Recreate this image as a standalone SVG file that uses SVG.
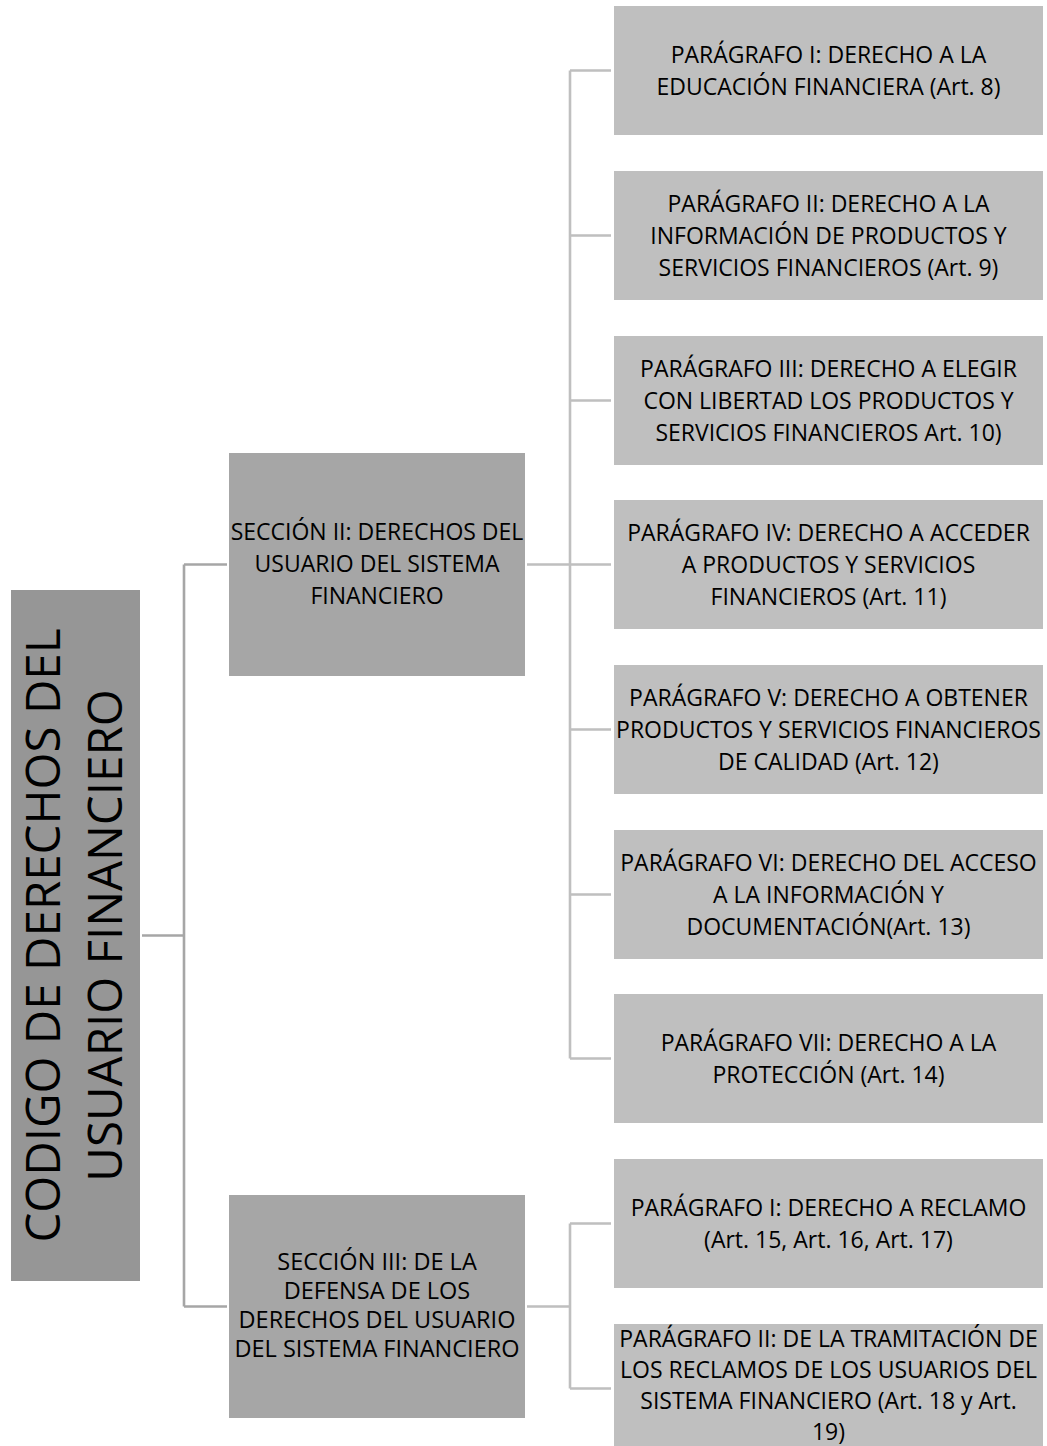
<svg xmlns="http://www.w3.org/2000/svg" width="1047" height="1446" viewBox="0 0 1047 1446">
  <style>
    text { font-family: "Open Sans", "Liberation Sans", sans-serif; fill: #000; text-anchor: middle; }
    .root { fill: #969696; }
    .sec { fill: #a6a6a6; }
    .par { fill: #bfbfbf; }
    .t-root { font-size: 47.5px; }
    .t-sec { font-size: 23px; }
    .t-sec3 { font-size: 23.5px; }
    .t-par { font-size: 23px; }
    .link-main { stroke: #a6a6a6; stroke-width: 2.6; fill: none; }
    .link { stroke: #bfbfbf; stroke-width: 2.6; fill: none; }
  </style>

  <!-- connectors -->
  <g id="connectors">
    <!-- root to sections -->
    <path class="link-main" d="M142 935.5 H184 M184 564.5 V1306.5 M184 564.5 H227 M184 1306.5 H227"/>
    <!-- section II to its paragraphs -->
    <path class="link" d="M527 564.5 H570 M570 70.5 V1058.5
      M570 70.5 H611 M570 235.5 H611 M570 400.5 H611 M570 564.5 H611
      M570 729.5 H611 M570 894.5 H611 M570 1058.5 H611"/>
    <!-- section III to its paragraphs -->
    <path class="link" d="M527 1306.5 H570 M570 1223.5 V1388.5 M570 1223.5 H611 M570 1388.5 H611"/>
  </g>

  <!-- root -->
  <g id="root">
    <rect class="root" x="11" y="590" width="129" height="691"/>
    <g transform="translate(75.5,935.5) rotate(-90)">
      <text class="t-root" x="0" y="-15.5">CODIGO DE DERECHOS DEL</text>
      <text class="t-root" x="0" y="46.5">USUARIO FINANCIERO</text>
    </g>
  </g>

  <!-- sections -->
  <g id="sec2">
    <rect class="sec" x="229" y="453" width="296" height="223"/>
    <text class="t-sec" x="377" y="540">SECCIÓN II: DERECHOS DEL</text>
    <text class="t-sec" x="377" y="572">USUARIO DEL SISTEMA</text>
    <text class="t-sec" x="377" y="604">FINANCIERO</text>
  </g>
  <g id="sec3">
    <rect class="sec" x="229" y="1195" width="296" height="223"/>
    <text class="t-sec3" x="377" y="1270">SECCIÓN III: DE LA</text>
    <text class="t-sec3" x="377" y="1299">DEFENSA DE LOS</text>
    <text class="t-sec3" x="377" y="1328">DERECHOS DEL USUARIO</text>
    <text class="t-sec3" x="377" y="1357">DEL SISTEMA FINANCIERO</text>
  </g>

  <!-- paragraphs of section II -->
  <g id="p1">
    <rect class="par" x="614" y="6" width="429" height="129"/>
    <text class="t-par" x="828.5" y="62.5">PARÁGRAFO I: DERECHO A LA</text>
    <text class="t-par" x="828.5" y="94.5">EDUCACIÓN FINANCIERA (Art. 8)</text>
  </g>
  <g id="p2">
    <rect class="par" x="614" y="171" width="429" height="129"/>
    <text class="t-par" x="828.5" y="211.5">PARÁGRAFO II: DERECHO A LA</text>
    <text class="t-par" x="828.5" y="243.5">INFORMACIÓN DE PRODUCTOS Y</text>
    <text class="t-par" x="828.5" y="275.5">SERVICIOS FINANCIEROS (Art. 9)</text>
  </g>
  <g id="p3">
    <rect class="par" x="614" y="336" width="429" height="129"/>
    <text class="t-par" x="828.5" y="376.5">PARÁGRAFO III: DERECHO A ELEGIR</text>
    <text class="t-par" x="828.5" y="408.5">CON LIBERTAD LOS PRODUCTOS Y</text>
    <text class="t-par" x="828.5" y="440.5">SERVICIOS FINANCIEROS Art. 10)</text>
  </g>
  <g id="p4">
    <rect class="par" x="614" y="500" width="429" height="129"/>
    <text class="t-par" x="828.5" y="540.5">PARÁGRAFO IV: DERECHO A ACCEDER</text>
    <text class="t-par" x="828.5" y="572.5">A PRODUCTOS Y SERVICIOS</text>
    <text class="t-par" x="828.5" y="604.5">FINANCIEROS (Art. 11)</text>
  </g>
  <g id="p5">
    <rect class="par" x="614" y="665" width="429" height="129"/>
    <text class="t-par" x="828.5" y="705.5">PARÁGRAFO V: DERECHO A OBTENER</text>
    <text class="t-par" x="828.5" y="737.5">PRODUCTOS Y SERVICIOS FINANCIEROS</text>
    <text class="t-par" x="828.5" y="769.5">DE CALIDAD (Art. 12)</text>
  </g>
  <g id="p6">
    <rect class="par" x="614" y="830" width="429" height="129"/>
    <text class="t-par" x="828.5" y="870.5">PARÁGRAFO VI: DERECHO DEL ACCESO</text>
    <text class="t-par" x="828.5" y="902.5">A LA INFORMACIÓN Y</text>
    <text class="t-par" x="828.5" y="934.5">DOCUMENTACIÓN(Art. 13)</text>
  </g>
  <g id="p7">
    <rect class="par" x="614" y="994" width="429" height="129"/>
    <text class="t-par" x="828.5" y="1050.5">PARÁGRAFO VII: DERECHO A LA</text>
    <text class="t-par" x="828.5" y="1082.5">PROTECCIÓN (Art. 14)</text>
  </g>

  <!-- paragraphs of section III -->
  <g id="p8">
    <rect class="par" x="614" y="1159" width="429" height="129"/>
    <text class="t-par" x="828.5" y="1215.5">PARÁGRAFO I: DERECHO A RECLAMO</text>
    <text class="t-par" x="828.5" y="1247.5">(Art. 15, Art. 16, Art. 17)</text>
  </g>
  <g id="p9">
    <rect class="par" x="614" y="1324" width="429" height="129"/>
    <text class="t-par" x="828.5" y="1346.5">PARÁGRAFO II: DE LA TRAMITACIÓN DE</text>
    <text class="t-par" x="828.5" y="1377.5">LOS RECLAMOS DE LOS USUARIOS DEL</text>
    <text class="t-par" x="828.5" y="1408.5">SISTEMA FINANCIERO (Art. 18 y Art.</text>
    <text class="t-par" x="828.5" y="1440">19)</text>
  </g>
</svg>
